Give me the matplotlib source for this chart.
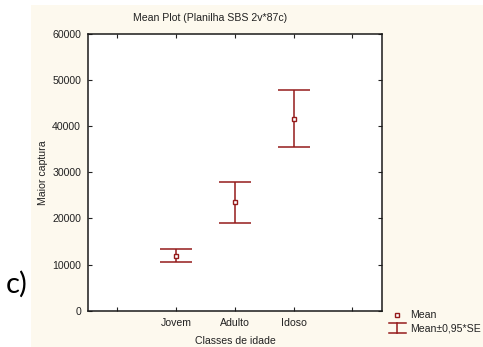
import matplotlib.pyplot as plt
from matplotlib.lines import Line2D
from matplotlib.patches import Rectangle
import numpy as np

classes = ["Jovem", "Adulto", "Idoso"]
means = np.array([11900, 23600, 41600])
upper = np.array([13300, 27900, 47800])
lower = np.array([10500, 19100, 35600])

W, H = 483, 347
red = "#951b1b"
fs = 7.6
plt.rcParams["font.family"] = ["Liberation Sans", "DejaVu Sans"]

fig = plt.figure(figsize=(W / 100, H / 100), dpi=100)
fig.patch.set_facecolor("white")
# cream panel behind the chart
fig.add_artist(Rectangle((31 / W, 0), 1 - 31 / W, 1 - 5 / H, transform=fig.transFigure,
                         facecolor="#fdf9ee", edgecolor="none", zorder=-10))

ax = fig.add_axes([88 / W, 1 - 310.7 / H, 293.7 / W, 276.7 / H])
ax.set_facecolor("white")
x = np.arange(1, len(classes) + 1)

ax.errorbar(x, means, yerr=[means - lower, upper - means], fmt="none",
            ecolor=red, elinewidth=1.1, capsize=11.5, capthick=1.1)
ax.plot(x, means, "s", mfc="white", mec=red, ms=3.5, mew=1.0, ls="none")

ax.set_xlim(-0.5, 4.5)
ax.set_ylim(0, 60000)
ax.set_xticks([0, 1, 2, 3, 4])
ax.set_xticklabels([""] + classes + [""])
ax.set_yticks(range(0, 60001, 10000))
ax.tick_params(direction="in", length=3, width=0.8, top=True, right=True,
               labelsize=fs, colors="#222222", pad=5)
for s in ax.spines.values():
    s.set_linewidth(1.1)
    s.set_color("#1a1a1a")

fig.text(210 / W, 1 - 18 / H, "Mean Plot (Planilha SBS 2v*87c)", ha="center", va="center",
         fontsize=fs, color="#222222")
fig.text(43 / W, 1 - 173 / H, "Maior captura", ha="center", va="center", rotation=90,
         fontsize=fs, color="#222222")
fig.text(235 / W, 1 - 341 / H, "Classes de idade", ha="center", va="center",
         fontsize=fs, color="#222222")

# legend drawn by hand
fig.add_artist(Line2D([397 / W], [1 - 315 / H], marker="s", mfc="white", mec=red, ms=3.5,
                      mew=1.0, ls="none", transform=fig.transFigure))
for yy in (323, 333):
    fig.add_artist(Line2D([389 / W, 405.5 / W], [1 - yy / H, 1 - yy / H], color=red, lw=1.1,
                          transform=fig.transFigure))
fig.add_artist(Line2D([397 / W, 397 / W], [1 - 323 / H, 1 - 333 / H], color=red, lw=1.1,
                      transform=fig.transFigure))
fig.text(410.5 / W, 1 - 315.5 / H, "Mean", ha="left", va="center", fontsize=fs, color="#222222")
fig.text(410.5 / W, 1 - 328.5 / H, "Mean±0,95*SE", ha="left", va="center", fontsize=fs,
         color="#222222")

fig.text(17 / W, 1 - 284 / H, "c)", ha="center", va="center", fontsize=21,
         family=["Lato", "DejaVu Sans"], color="black")

fig.savefig("out.png", dpi=100)
